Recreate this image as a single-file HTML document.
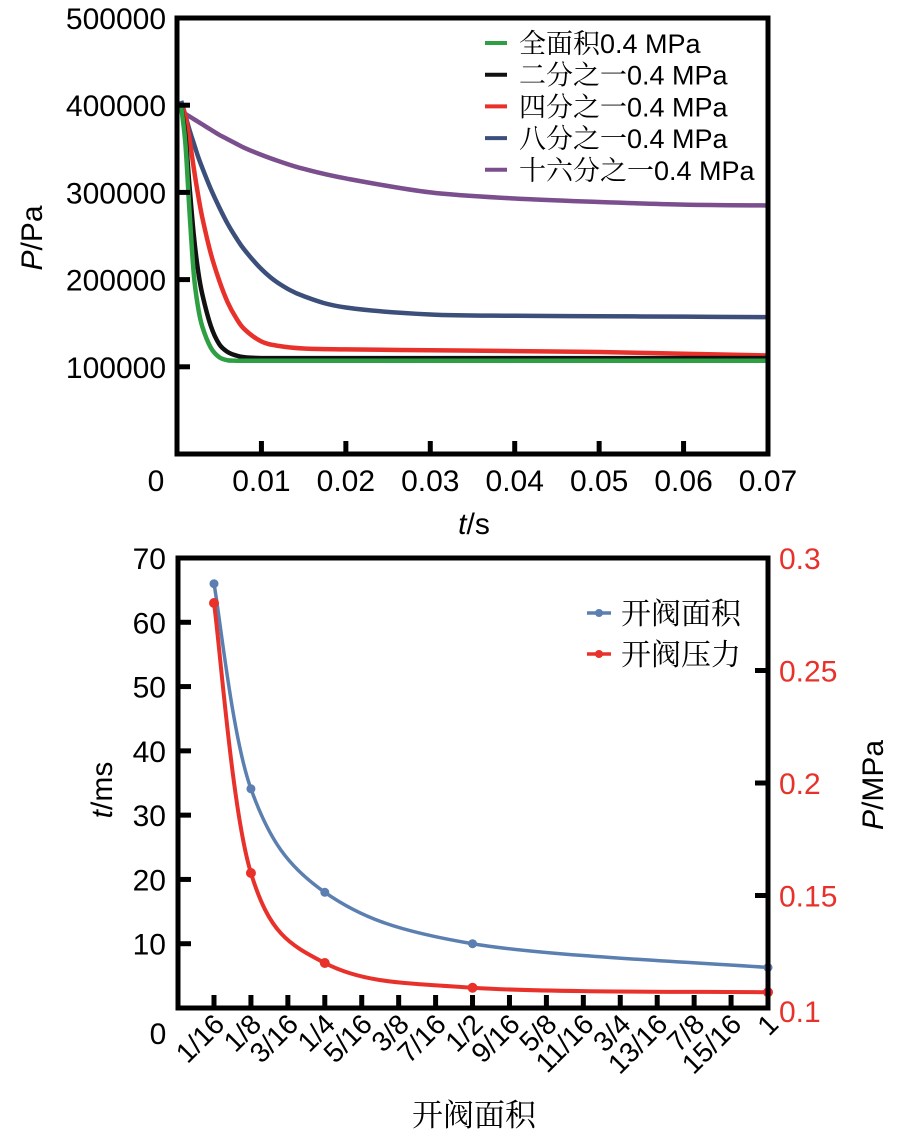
<!DOCTYPE html>
<html><head><meta charset="utf-8"><style>
html,body{margin:0;padding:0;background:#fff;}
svg{display:block;font-family:"Liberation Sans","Noto Serif CJK SC",sans-serif;}
.cj{font-family:"Liberation Sans","Noto Serif CJK SC",serif;}
</style></head><body>
<svg id="c" width="897" height="1136" viewBox="0 0 897 1136" xmlns="http://www.w3.org/2000/svg"></svg>
<script>
// ---- top chart data ----
const topTime=[0.0005,0.001,0.0015,0.002,0.0025,0.003,0.004,0.005,0.006,0.007,0.008,0.01,0.012,0.015,0.02,0.03,0.04,0.05,0.06,0.07];
const seriesFull=[398000,355000,275000,205000,168000,146000,122000,111000,107500,107000,107000,107000,107000,107000,107000,107000,107000,107000,107000,107000];
const seriesHalf=[398000,365000,305000,250000,210000,183000,147000,126000,117000,113000,111000,110000,110000,110000,110000,110000,110000,110000,110000,110000];
const seriesQuarter=[400000,388000,360000,327000,297000,271000,230000,199000,174000,156000,143000,129000,124000,121000,120000,119000,118000,117000,115000,113000];
const seriesEighth=[405000,388000,371000,356000,341000,328000,304000,283000,264000,248000,234000,212000,196000,181000,168000,160000,158500,158000,157500,157000];
const seriesSixteenth=[393000,390000,387000,384000,381000,378000,372000,366000,361000,356000,351000,343000,336000,327000,316000,300000,293000,289000,286000,285000];
const topYTicks=[100000,200000,300000,400000,500000];
const topXTicks=[0.01,0.02,0.03,0.04,0.05,0.06,0.07];
const topLegend=["全面积0.4 MPa","二分之一0.4 MPa","四分之一0.4 MPa","八分之一0.4 MPa","十六分之一0.4 MPa"];
// ---- bottom chart data ----
const areaCats=["1/16","1/8","3/16","1/4","5/16","3/8","7/16","1/2","9/16","5/8","11/16","3/4","13/16","7/8","15/16","1"];
const areaIdx=[0,1,3,7,15];
const timeMs=[66,34.1,18,10,6.3];
const pressMPa=[0.28,0.16,0.12,0.109,0.107];
const leftTicks=[10,20,30,40,50,60,70];
const rightTicks=[0.15,0.2,0.25,0.3];

const NS="http://www.w3.org/2000/svg";
const svg=document.getElementById('c');
function mk(tag,attrs,parent,text){const e=document.createElementNS(NS,tag);for(const k in attrs)e.setAttribute(k,attrs[k]);if(text!==undefined)e.textContent=text;(parent||svg).appendChild(e);return e;}
function smooth(pts){let d="M"+pts[0][0]+","+pts[0][1];for(let i=0;i<pts.length-1;i++){const p0=pts[i-1]||pts[i],p1=pts[i],p2=pts[i+1],p3=pts[i+2]||p2;const c1x=p1[0]+(p2[0]-p0[0])/6,c1y=p1[1]+(p2[1]-p0[1])/6,c2x=p2[0]-(p3[0]-p1[0])/6,c2y=p2[1]-(p3[1]-p1[1])/6;d+=" C"+c1x+","+c1y+" "+c2x+","+c2y+" "+p2[0]+","+p2[1];}return d;}

// ===== top chart =====
const T={l:177,r:768,t:18,b:454};
const tx=v=>T.l+(v/0.07)*(T.r-T.l);
const ty=v=>T.b-(v/500000)*(T.b-T.t);
const gTop=mk('g',{});
const colors=["#2ea043","#111111","#e8312a","#3b4f7a","#7b4f8e"];
const allSeries=[seriesFull,seriesHalf,seriesQuarter,seriesEighth,seriesSixteenth];
const sNames=['series-full-area','series-half-area','series-quarter-area','series-eighth-area','series-sixteenth-area'];
[4,3,2,1,0].forEach(i=>{const pts=topTime.map((t,j)=>[tx(t),ty(allSeries[i][j])]);const p=mk('path',{d:smooth(pts),fill:'none',stroke:colors[i],'stroke-width':4.5,'stroke-linejoin':'round'},gTop);});
const fr=mk('rect',{x:T.l,y:T.t,width:T.r-T.l,height:T.b-T.t,fill:'none',stroke:'#000','stroke-width':5},gTop);
topYTicks.forEach(v=>{if(v<500000){const l=mk('line',{x1:T.l,x2:T.l+13,y1:ty(v),y2:ty(v),stroke:'#000','stroke-width':5},gTop);}
 const t=mk('text',{x:166,y:ty(v)+11,'text-anchor':'end','font-size':30},gTop,String(v));});
const z=mk('text',{x:156,y:491,'text-anchor':'middle','font-size':30},gTop,'0');
topXTicks.forEach(v=>{if(v<0.07){const l=mk('line',{x1:tx(v),x2:tx(v),y1:T.b,y2:T.b-13,stroke:'#000','stroke-width':5},gTop);}
 const t=mk('text',{x:tx(v),y:491,'text-anchor':'middle','font-size':30},gTop,v.toFixed(2));});
const xt=mk('text',{x:474,y:534,'text-anchor':'middle','font-size':30},gTop);
mk('tspan',{'font-style':'italic'},xt,'t');mk('tspan',{},xt,'/s');
const yt=mk('text',{x:0,y:0,'text-anchor':'middle','font-size':30,transform:'translate(42,238) rotate(-90)'},gTop);
mk('tspan',{'font-style':'italic'},yt,'P');mk('tspan',{},yt,'/Pa');
topLegend.forEach((s,i)=>{const y=43+i*31.7;const g=mk('g',{},gTop);
 mk('line',{x1:485,x2:507,y1:y,y2:y,stroke:colors[i],'stroke-width':4},g);
 mk('text',{x:519,y:y+10,'font-size':27,class:'cj'},g,s);});

// ===== bottom chart =====
const B={l:178,r:768,t:558,b:1008};
const bx=i=>214+i*(B.r-214)/15;
const byL=v=>B.b-(v/70)*(B.b-B.t);
const byR=v=>B.b-((v-0.1)/0.2)*(B.b-B.t);
const gB=mk('g',{});
const blue="#5b7fb0",red="#e8312a";
const bp=areaIdx.map((k,j)=>[bx(k),byL(timeMs[j])]);
const rp=areaIdx.map((k,j)=>[bx(k),byR(pressMPa[j])]);
const lb=mk('path',{d:smooth(bp),fill:'none',stroke:blue,'stroke-width':3.5},gB);
const lr=mk('path',{d:smooth(rp),fill:'none',stroke:red,'stroke-width':4},gB);
bp.forEach(p=>{const c=mk('circle',{cx:p[0],cy:p[1],r:4.5,fill:blue},gB);});
rp.forEach(p=>{const c=mk('circle',{cx:p[0],cy:p[1],r:5,fill:red},gB);});
const fb=mk('rect',{x:B.l,y:B.t,width:B.r-B.l,height:B.b-B.t,fill:'none',stroke:'#000','stroke-width':5},gB);
leftTicks.forEach(v=>{if(v<70){const l=mk('line',{x1:B.l,x2:B.l+13,y1:byL(v),y2:byL(v),stroke:'#000','stroke-width':5},gB);}
 const t=mk('text',{x:166,y:byL(v)+11,'text-anchor':'end','font-size':30},gB,String(v));});
const z2=mk('text',{x:158,y:1044,'text-anchor':'middle','font-size':30},gB,'0');
const r01=mk('text',{x:779,y:1022,'font-size':30,fill:red},gB,'0.1');
rightTicks.forEach(v=>{if(v<0.3){const l=mk('line',{x1:B.r,x2:B.r-13,y1:byR(v),y2:byR(v),stroke:'#000','stroke-width':5},gB);}
 const t=mk('text',{x:779,y:byR(v)+11,'font-size':30,fill:red},gB,String(v));});
areaCats.forEach((s,i)=>{if(i<15){const l=mk('line',{x1:bx(i),x2:bx(i),y1:B.b,y2:B.b-13,stroke:'#000','stroke-width':5},gB);}
 const t=mk('text',{x:0,y:0,'text-anchor':'end','font-size':28,transform:'translate('+(bx(i)+12)+',1026) rotate(-45)'},gB,s);});
const bxT=mk('text',{x:474,y:1126,'text-anchor':'middle','font-size':31,class:'cj'},gB,'开阀面积');
const lyT=mk('text',{x:0,y:0,'text-anchor':'middle','font-size':30,transform:'translate(112,790) rotate(-90)'},gB);
mk('tspan',{'font-style':'italic'},lyT,'t');mk('tspan',{},lyT,'/ms');
const ryT=mk('text',{x:0,y:0,'text-anchor':'middle','font-size':30,transform:'translate(883,785) rotate(-90)'},gB);
mk('tspan',{'font-style':'italic'},ryT,'P');mk('tspan',{},ryT,'/MPa');
[["开阀面积",blue,613],["开阀压力",red,654]].forEach(e=>{const g=mk('g',{},gB);
 mk('line',{x1:587,x2:611,y1:e[2],y2:e[2],stroke:e[1],'stroke-width':3.5},g);
 mk('circle',{cx:599,cy:e[2],r:4,fill:e[1]},g);
 mk('text',{x:621,y:e[2]+11,'font-size':30,class:'cj'},g,e[0]);});
</script>
</body></html>
